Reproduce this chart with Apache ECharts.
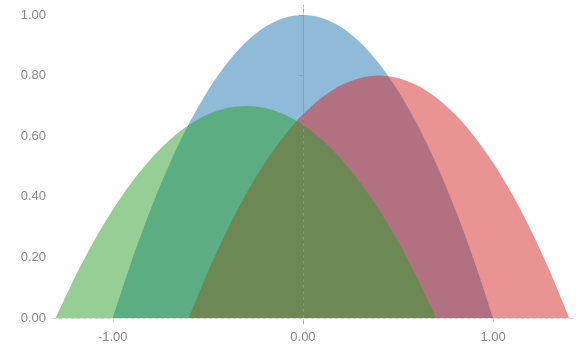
<!DOCTYPE html>
<html>
<head>
<meta charset="utf-8">
<script src="https://cdn.jsdelivr.net/npm/echarts@6/dist/echarts.min.js"></script>
<style>html,body{margin:0;padding:0;background:#fff;}#c{width:579px;height:351px;}</style>
</head>
<body>
<div id="c"></div>
<script>
// Data
var blueX  = [-1.0,-0.9,-0.8,-0.7,-0.6,-0.5,-0.4,-0.3,-0.2,-0.1,0.0,0.1,0.2,0.3,0.4,0.5,0.6,0.7,0.8,0.9,1.0];
var blueY  = [0,0.190,0.360,0.510,0.640,0.750,0.840,0.910,0.960,0.990,1.000,0.990,0.960,0.910,0.840,0.750,0.640,0.510,0.360,0.190,0];
var redX   = [-0.6,-0.5,-0.4,-0.3,-0.2,-0.1,0.0,0.1,0.2,0.3,0.4,0.5,0.6,0.7,0.8,0.9,1.0,1.1,1.2,1.3,1.4];
var redY   = [0,0.152,0.288,0.408,0.512,0.600,0.672,0.728,0.768,0.792,0.800,0.792,0.768,0.728,0.672,0.600,0.512,0.408,0.288,0.152,0];
var greenX = [-1.3,-1.2,-1.1,-1.0,-0.9,-0.8,-0.7,-0.6,-0.5,-0.4,-0.3,-0.2,-0.1,0.0,0.1,0.2,0.3,0.4,0.5,0.6,0.7];
var greenY = [0,0.133,0.252,0.357,0.448,0.525,0.588,0.637,0.672,0.693,0.700,0.693,0.672,0.637,0.588,0.525,0.448,0.357,0.252,0.133,0];
var xTicks = [-1, 0, 1];
var yTicks = [0, 0.2, 0.4, 0.6, 0.8, 1.0];

function pairs(xs, ys){ return xs.map(function(x,i){ return [x, ys[i]]; }); }

var chart = echarts.init(document.getElementById('c'), null, {renderer:'canvas'});
function areaSeries(name, xs, ys, color, extra){
  var s = {
    name: name, type: 'line', data: pairs(xs, ys),
    showSymbol: false, symbol: 'none', silent: true, smooth: 0.3,
    lineStyle: { width: 0 },
    areaStyle: { color: color, opacity: 0.5, origin: 0 },
    animation: false
  };
  if (extra) for (var k in extra) s[k] = extra[k];
  return s;
}
chart.setOption({
  animation: false,
  grid: { left: 50, right: 6, top: 5, bottom: 27, containLabel: false },
  xAxis: {
    type: 'value', min: -1.33, max: 1.42,
    axisLine: { show: true, lineStyle: { color: '#d4d4d4', width: 1 } },
    axisTick: { show: true, length: 4, customValues: xTicks, lineStyle: { color: '#d4d4d4' } },
    axisLabel: { customValues: xTicks, color: '#888', fontSize: 13, fontFamily: 'Liberation Sans, Arial, sans-serif', margin: 7,
      formatter: function(v){ return v.toFixed(2); } },
    splitLine: { show: false }
  },
  yAxis: {
    type: 'value', min: -0.02, max: 1.033,
    axisLine: { show: true, lineStyle: { color: '#d4d4d4', width: 1 } },
    axisTick: { show: true, length: 4, customValues: yTicks, lineStyle: { color: '#d4d4d4' } },
    axisLabel: { customValues: yTicks, color: '#888', fontSize: 13, fontFamily: 'Liberation Sans, Arial, sans-serif', margin: 4,
      formatter: function(v){ return v.toFixed(2); } },
    splitLine: { show: false }
  },
  series: [
    areaSeries('blue', blueX, blueY, '#1f77b4'),
    areaSeries('red', redX, redY, '#d62728'),
    areaSeries('green', greenX, greenY, '#2ca02c', {
      markLine: {
        silent: true, symbol: 'none', animation: false, label: { show: false },
        data: [
          { xAxis: 0, lineStyle: { color: '#8a9db0', type: [3, 3], width: 1, opacity: 0.8 } },
          { yAxis: 0, lineStyle: { color: '#e8e8e8', type: [3, 3], width: 1 } }
        ]
      }
    })
  ]
});
</script>
</body>
</html>
